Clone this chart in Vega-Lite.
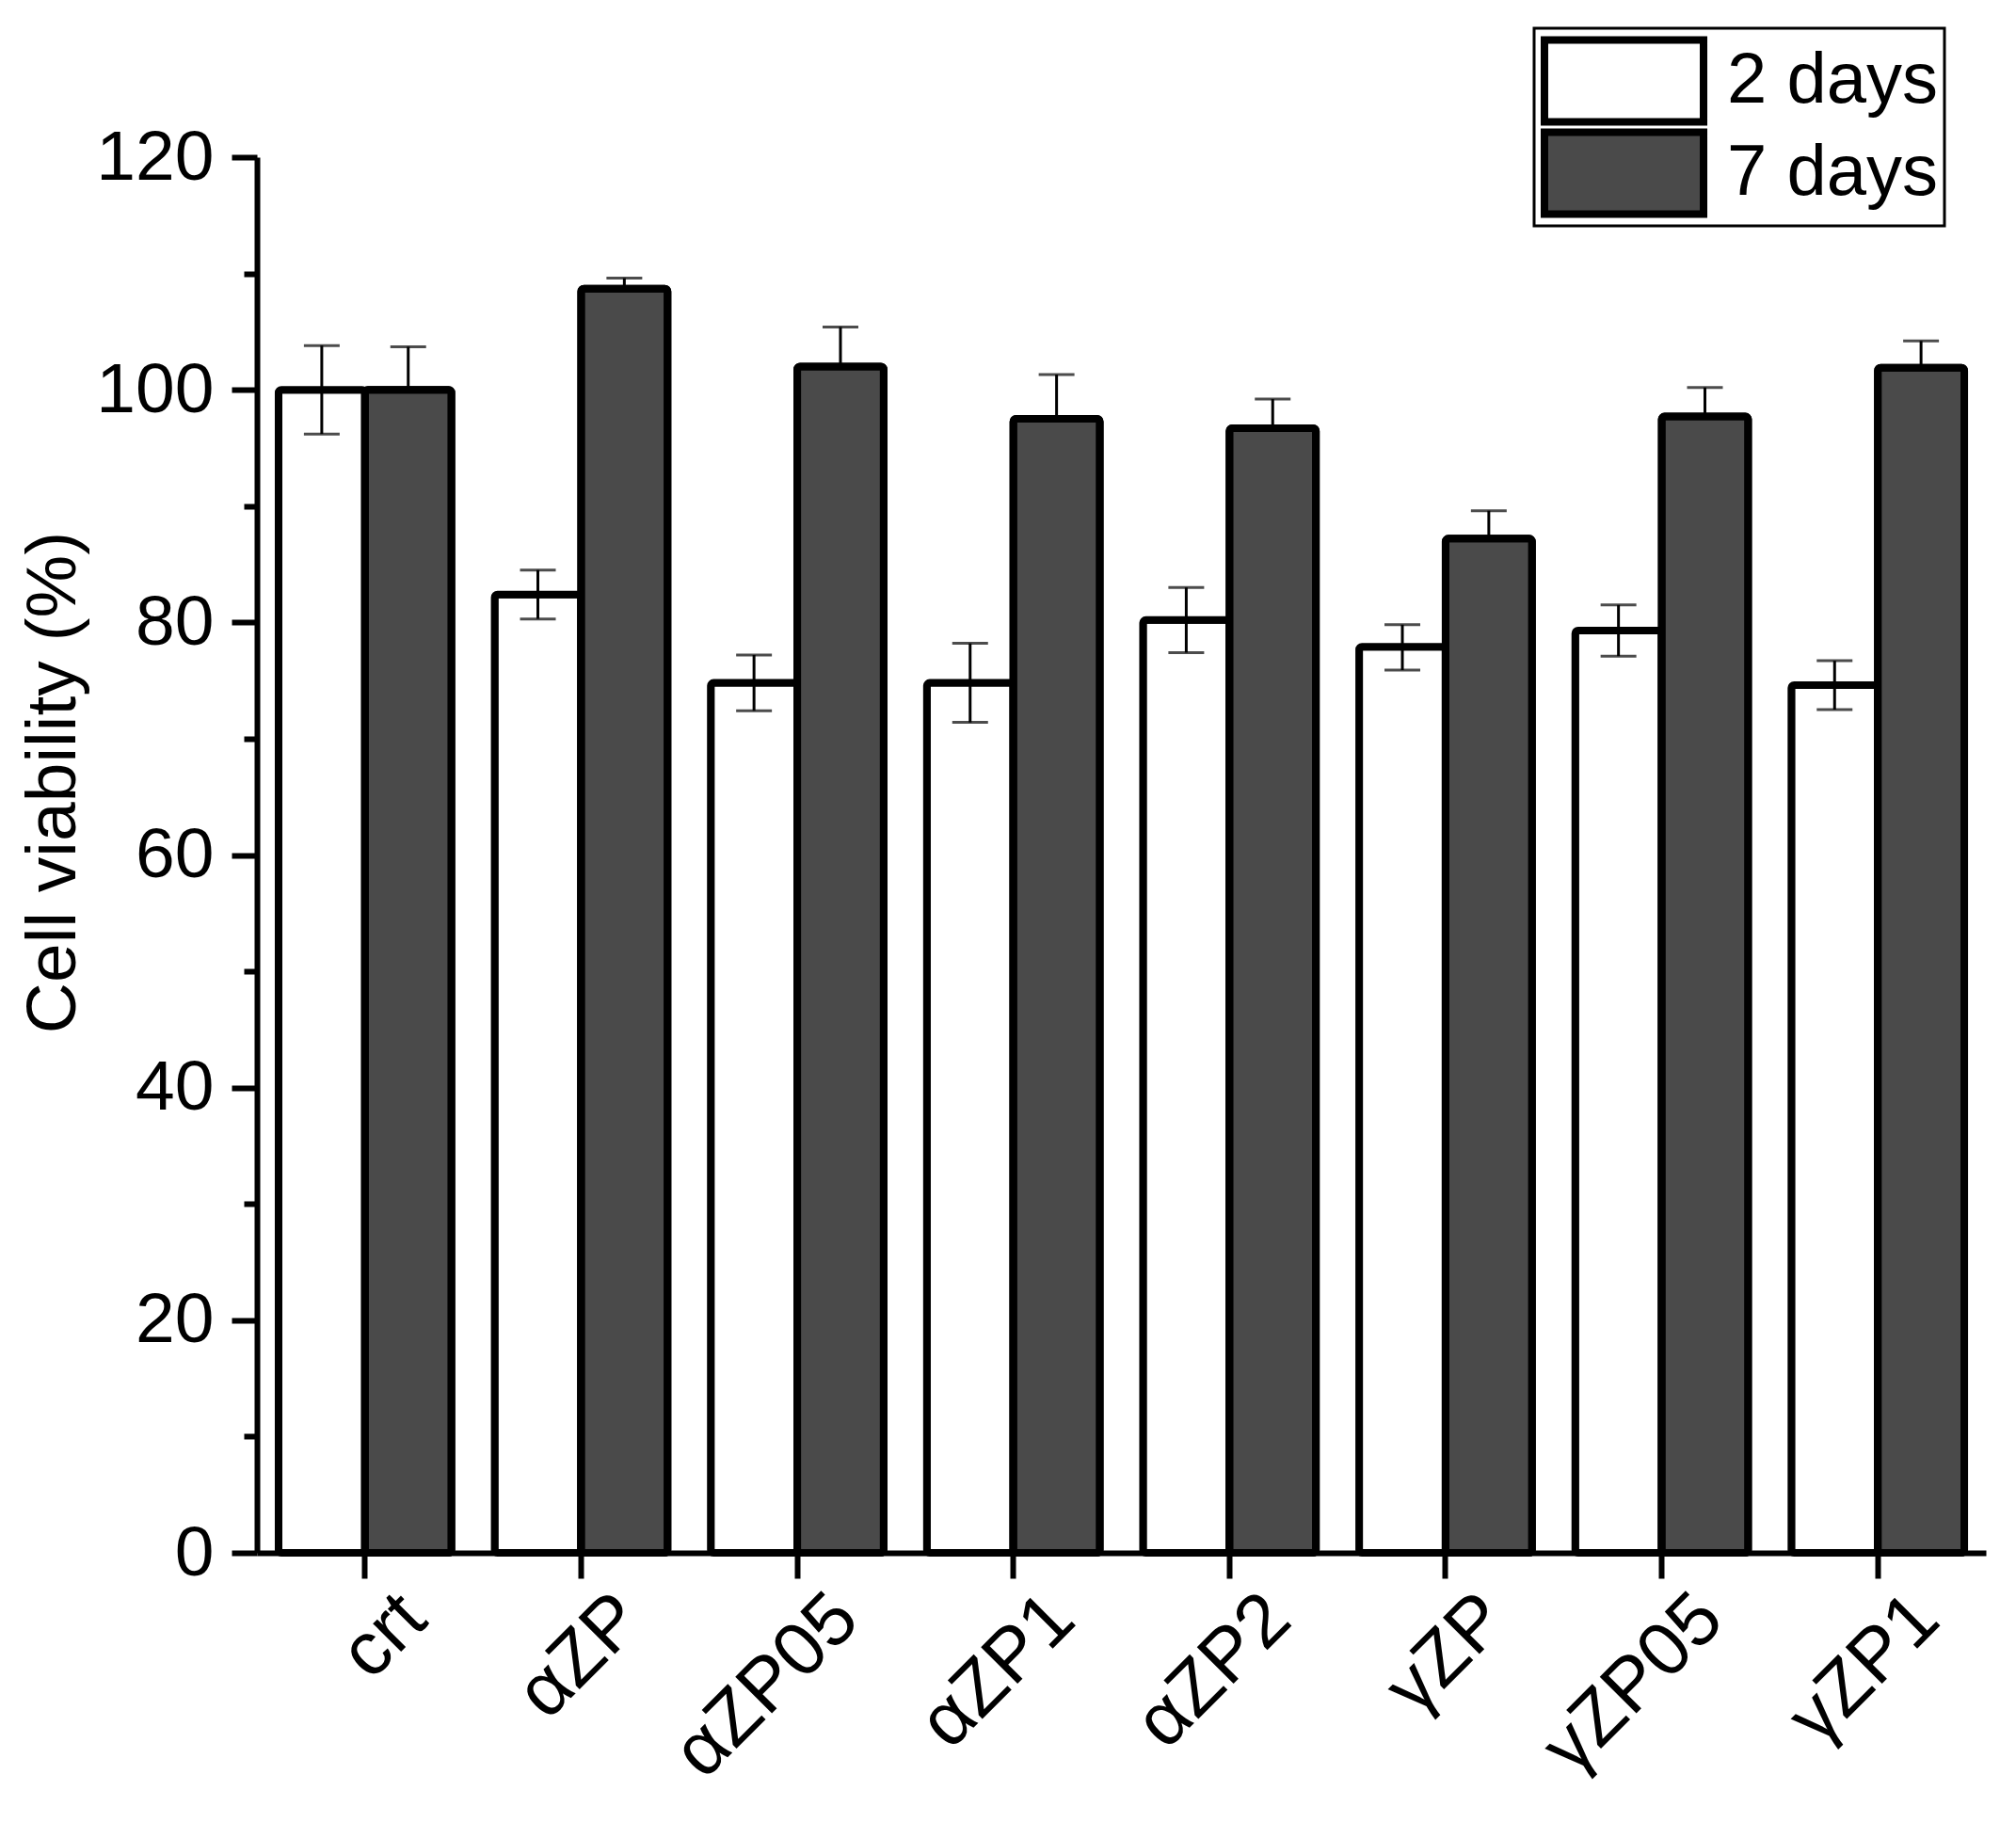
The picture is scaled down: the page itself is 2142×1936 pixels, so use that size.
{
  "$schema": "https://vega.github.io/schema/vega-lite/v6.json",
  "autosize": {"type": "none"},
  "width": 1837,
  "height": 1483,
  "padding": {"left": 273, "top": 167, "right": 32, "bottom": 286},
  "background": "white",
  "config": {
    "font": "Liberation Sans",
    "view": {"stroke": null},
    "axis": {"grid": false, "domainColor": "black", "tickColor": "black", "labelColor": "black", "titleColor": "black", "labelFont": "Liberation Sans", "titleFont": "Liberation Sans", "labelLimit": 0},
    "legend": {"labelFont": "Liberation Sans", "labelLimit": 0}
  },
  "data": {"values": [
    {"sample": "crt", "time": "2 days", "mean": 100.0, "lower": 96.2, "upper": 103.8},
    {"sample": "crt", "time": "7 days", "mean": 100.0, "lower": 96.3, "upper": 103.7},
    {"sample": "αZP", "time": "2 days", "mean": 82.4, "lower": 80.3, "upper": 84.5},
    {"sample": "αZP", "time": "7 days", "mean": 108.7, "lower": 107.8, "upper": 109.6},
    {"sample": "αZP05", "time": "2 days", "mean": 74.8, "lower": 72.4, "upper": 77.2},
    {"sample": "αZP05", "time": "7 days", "mean": 102.0, "lower": 98.6, "upper": 105.4},
    {"sample": "αZP1", "time": "2 days", "mean": 74.8, "lower": 71.4, "upper": 78.2},
    {"sample": "αZP1", "time": "7 days", "mean": 97.5, "lower": 93.7, "upper": 101.3},
    {"sample": "αZP2", "time": "2 days", "mean": 80.2, "lower": 77.4, "upper": 83.0},
    {"sample": "αZP2", "time": "7 days", "mean": 96.7, "lower": 94.2, "upper": 99.2},
    {"sample": "γZP", "time": "2 days", "mean": 77.9, "lower": 75.9, "upper": 79.8},
    {"sample": "γZP", "time": "7 days", "mean": 87.2, "lower": 84.8, "upper": 89.6},
    {"sample": "γZP05", "time": "2 days", "mean": 79.3, "lower": 77.1, "upper": 81.5},
    {"sample": "γZP05", "time": "7 days", "mean": 97.7, "lower": 95.2, "upper": 100.2},
    {"sample": "γZP1", "time": "2 days", "mean": 74.6, "lower": 72.5, "upper": 76.7},
    {"sample": "γZP1", "time": "7 days", "mean": 101.9, "lower": 99.6, "upper": 104.2}
  ]},
  "encoding": {
    "x": {
      "field": "sample", "type": "nominal",
      "sort": ["crt", "αZP", "αZP05", "αZP1", "αZP2", "γZP", "γZP05", "γZP1"],
      "scale": {"paddingInner": 0, "paddingOuter": 0},
      "axis": {
        "title": null, "domainWidth": 6, "tickWidth": 6, "tickSize": 27,
        "labelFontSize": 80, "labelAngle": -45, "labelAlign": "right", "labelBaseline": "middle",
        "labelOffset": 52, "labelPadding": 30, "labelLimit": 0
      }
    },
    "xOffset": {
      "field": "time", "type": "nominal",
      "scale": {"domain": ["2 days", "7 days"], "paddingInner": 0, "paddingOuter": 0.25}
    }
  },
  "layer": [
    {
      "mark": {"type": "bar", "stroke": "black", "strokeWidth": 8, "cornerRadius": 3},
      "encoding": {
        "y": {
          "field": "mean", "type": "quantitative",
          "scale": {"domain": [0, 120], "nice": false, "zero": true},
          "axis": {
            "values": [0, 20, 40, 60, 80, 100, 120], "tickSize": 27, "tickWidth": 6, "domainWidth": 6,
            "labelFontSize": 75, "labelPadding": 19,
            "title": "Cell viability (%)", "titleFontSize": 75, "titleFontWeight": "normal",
            "titleAngle": -90, "titleAlign": "center", "titleBaseline": "middle",
            "titleX": -217, "titleY": 664
          }
        },
        "fill": {
          "field": "time", "type": "nominal",
          "scale": {"domain": ["2 days", "7 days"], "range": ["white", "#4a4a4a"]},
          "legend": {
            "title": null, "orient": "none", "legendX": 1357, "legendY": -137,
            "labelFontSize": 76, "labelColor": "black", "labelOffset": 61, "labelLimit": 0,
            "symbolType": "M-1.91,-0.983H1.91V0.983H-1.91Z", "symbolSize": 7832, "symbolOffset": 40,
            "symbolStrokeColor": "black", "symbolStrokeWidth": 8, "symbolOpacity": 1,
            "clipHeight": 98, "rowPadding": 0, "padding": 7, "strokeColor": "black",
            "encode": {"legend": {"update": {"strokeWidth": {"value": 3}}}}
          }
        }
      }
    },
    {
      "mark": {"type": "rule", "color": "black", "strokeWidth": 3},
      "encoding": {
        "y": {
          "field": "lower", "type": "quantitative",
          "axis": {
            "orient": "left", "values": [10, 30, 50, 70, 90, 110], "labels": false, "title": null,
            "domain": false, "tickSize": 14, "tickWidth": 6
          }
        },
        "y2": {"field": "upper"}
      }
    },
    {
      "mark": {"type": "tick", "color": "black", "thickness": 3, "size": 38, "orient": "horizontal"},
      "encoding": {"y": {"field": "upper", "type": "quantitative", "axis": null}}
    },
    {
      "mark": {"type": "tick", "color": "black", "thickness": 3, "size": 38, "orient": "horizontal"},
      "encoding": {"y": {"field": "lower", "type": "quantitative", "axis": null}}
    },
    {
      "transform": [{"filter": "datum.time === '7 days'"}],
      "mark": {"type": "bar", "stroke": "black", "strokeWidth": 8, "cornerRadius": 3},
      "encoding": {
        "y": {"field": "mean", "type": "quantitative", "axis": null},
        "fill": {"field": "time", "type": "nominal", "legend": null}
      }
    }
  ],
  "resolve": {"axis": {"y": "independent"}}
}
